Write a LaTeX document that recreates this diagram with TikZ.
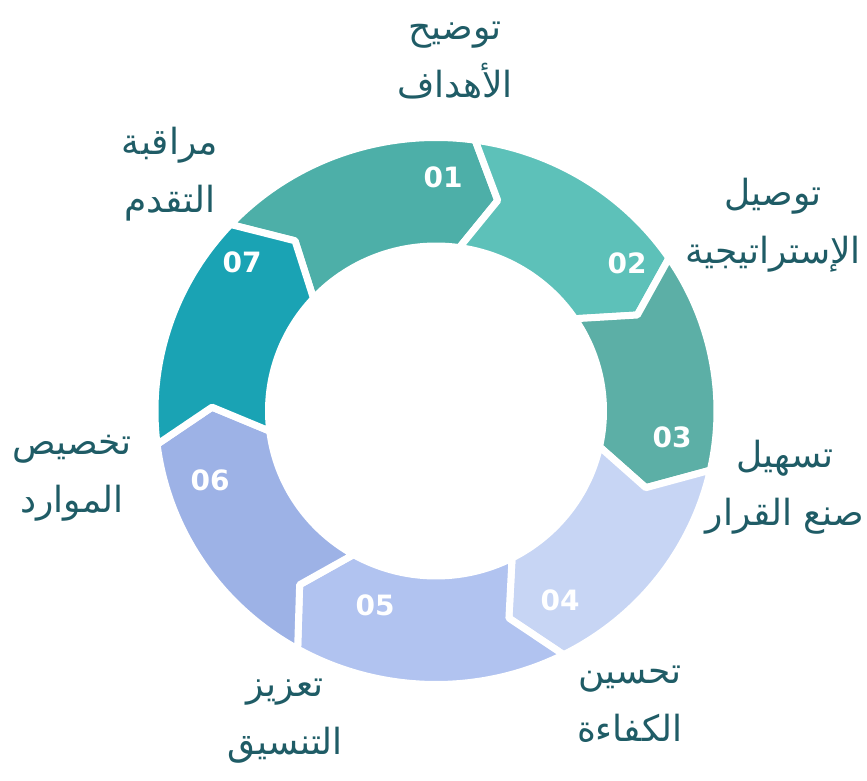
\documentclass[tikz,border=0pt]{standalone}
\usepackage{fontspec}
\newfontfamily\arabicfont[Script=Arabic]{DejaVu Sans}
\newfontfamily\numfont{DejaVu Sans}
\TeXXeTstate=1
\usetikzlibrary{positioning}

\definecolor{segA}{HTML}{4DAFA8}
\definecolor{segB}{HTML}{5DC1B9}
\definecolor{segC}{HTML}{5CAFA6}
\definecolor{segD}{HTML}{C7D5F4}
\definecolor{segE}{HTML}{B1C3F0}
\definecolor{segF}{HTML}{9DB2E6}
\definecolor{segG}{HTML}{1AA3B4}
\definecolor{lblcol}{HTML}{1F5C66}

\tikzset{
  seg/.style={fill=#1, draw=white, line width=7, line join=round},
  num/.style={text=white, font=\numfont\bfseries\fontsize{28}{28}\selectfont},
  lbl/.style={text=lblcol, align=center, font=\arabicfont\fontsize{36}{58}\selectfont},
}

\begin{document}
\begin{tikzpicture}[x=1pt,y=1pt]
\useasboundingbox (0,0) rectangle (867,-781);

% Segments
\begin{scope}[shift={(436,-411)}]
  \foreach \a/\b/\c in {137/82/segA, 82/34/segB, 34/-12.5/segC, -12.5/-63/segD,
                        -63/-119.5/segE, -119.5/-173/segF, 187/137/segG}
    \draw[seg=\c] (\a:281 and 273.5) arc (\a:\b:281 and 273.5)
      -- (\b-8:224 and 219) -- (\b:167.5 and 165) arc (\b:\a:167.5 and 165)
      -- (\a-8:224 and 219) -- cycle;
\end{scope}

% Numbers
\node[num] (n01) at (443,-177) {01};
\node[num] (n02) at (627,-263) {02};
\node[num] (n03) at (672,-437) {03};
\node[num] (n04) at (560,-600) {04};
\node[num] (n05) at (375,-605) {05};
\node[num] (n06) at (210,-480) {06};
\node[num] (n07) at (242,-262) {07};

% Labels
\node[lbl] (goals)    at (455,-61)  {\beginR توضيح\endR\\\beginR الأهداف\endR};
\node[lbl] (strategy) at (773,-225) {\beginR توصيل\endR\\\beginR الإستراتيجية\endR};
\node[lbl] (decision) at (785,-487) {\beginR تسهيل\endR\\\beginR صنع القرار\endR};
\node[lbl] (effic)    at (630,-704) {\beginR تحسين\endR\\\beginR الكفاءة\endR};
\node[lbl] (coord)    at (285,-721) {\beginR تعزيز\endR\\\beginR التنسيق\endR};
\node[lbl] (resource) at (72,-478)  {\beginR تخصيص\endR\\\beginR الموارد\endR};
\node[lbl] (progress) at (170,-174) {\beginR مراقبة\endR\\\beginR التقدم\endR};

\end{tikzpicture}
\end{document}
